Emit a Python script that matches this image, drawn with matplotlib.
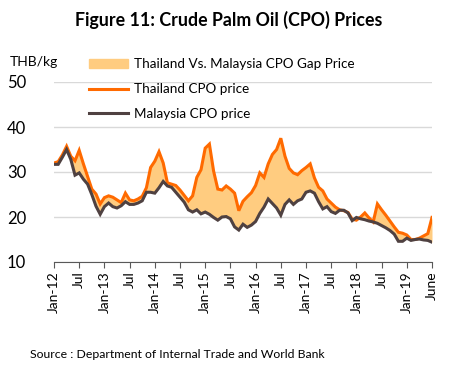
import matplotlib
matplotlib.use('Agg')
import matplotlib.pyplot as plt
import numpy as np
from matplotlib.patches import Patch
from matplotlib.lines import Line2D

# monthly prices, Jan-12 .. Jun-19 (THB/kg)
thai = [32.0, 32.3, 33.8, 35.7, 33.5, 32.5, 34.8, 31.8, 29.0, 26.2,
        25.1, 22.9, 24.3, 24.7, 24.4, 23.8, 23.2, 25.3, 23.8, 23.6,
        24.0, 24.6, 26.5, 31.0, 32.4, 34.5, 32.0, 27.6, 27.3, 27.0,
        26.0, 24.8, 23.6, 24.7, 28.8, 30.5, 35.3, 36.2, 30.2, 26.2,
        26.0, 26.9, 26.2, 25.3, 21.4, 23.5, 24.5, 25.4, 27.0, 29.8,
        28.8, 31.8, 33.9, 35.0, 37.5, 33.5, 30.8, 29.8, 29.4, 30.3,
        31.0, 31.8, 28.7, 26.6, 25.8, 24.0, 23.1, 22.2, 21.6, 21.4,
        21.0, 19.5, 19.3, 20.0, 20.9, 19.8, 18.9, 22.9, 21.6, 20.4,
        19.1, 17.8, 16.6, 16.4, 16.0, 15.0, 15.0, 15.3, 15.8, 16.3,
        19.9]
malaysia = [31.7, 31.7, 33.3, 35.0, 32.8, 29.3, 29.8, 28.4, 27.3, 25.0,
            22.4, 20.6, 22.3, 23.1, 22.3, 22.0, 22.5, 23.4, 22.8, 22.8,
            23.1, 23.6, 25.5, 25.5, 25.3, 26.5, 27.9, 26.9, 26.6, 25.5,
            24.4, 23.3, 21.6, 21.1, 21.6, 20.7, 21.1, 20.6, 19.9, 19.3,
            20.0, 20.1, 19.6, 17.8, 17.1, 18.4, 17.7, 18.2, 19.0, 20.8,
            22.2, 24.0, 23.0, 22.0, 20.4, 22.8, 23.8, 22.8, 23.6, 24.0,
            25.5, 25.8, 25.3, 23.4, 21.8, 22.3, 21.2, 20.8, 21.5, 21.5,
            20.9, 19.2, 19.9, 19.6, 19.4, 19.1, 18.9, 18.6, 18.1, 17.6,
            17.0, 16.2, 14.6, 14.6, 15.3, 14.8, 15.0, 15.1, 14.9, 14.8,
            14.4]
tick_labels = ['Jan-12', 'Jul', 'Jan-13', 'Jul', 'Jan-14', 'Jul', 'Jan-15', 'Jul',
               'Jan-16', 'Jul', 'Jan-17', 'Jul', 'Jan-18', 'Jul', 'Jan-19', 'June']

plt.rcParams['font.family'] = ['Lato', 'DejaVu Sans']

c_thai = '#ff6a00'
c_my = '#4f4141'
c_gap = '#ffcc80'

fig = plt.figure(figsize=(4.56, 3.70), dpi=100)
ax = fig.add_axes([54/456, 1 - 262/370, (432 - 54)/456, (262 - 82)/370])

x = np.arange(len(thai))
ax.fill_between(x, malaysia, thai, color=c_gap, lw=0)
ax.plot(x, thai, color=c_thai, lw=2.2, solid_joinstyle='miter')
ax.plot(x, malaysia, color=c_my, lw=2.2, solid_joinstyle='miter')

ax.set_xlim(0, len(thai) - 1)
ax.set_ylim(10, 50)
ax.set_yticks([10, 20, 30, 40, 50])
ax.yaxis.grid(True, color='#d9d9d9', lw=1)
ax.set_axisbelow(True)
ax.tick_params(axis='y', length=0, pad=20, labelsize=12)
ax.set_xticks(np.arange(0, len(thai), 6))
ax.set_xticklabels(tick_labels, rotation=90, fontsize=10)
ax.tick_params(axis='x', length=4, color='#595959', pad=3)
for s in ['left', 'right', 'top']:
    ax.spines[s].set_visible(False)
ax.spines['bottom'].set_color('#595959')

fig.text(0.502, 1 - 20/370, 'Figure 11: Crude Palm Oil (CPO) Prices',
         ha='center', va='center', fontsize=12.8, fontweight='bold')
fig.text(10/456, 1 - 62/370, 'THB/kg', ha='left', va='center', fontsize=10)
fig.text(30/456, 1 - 354/370, 'Source : Department of Internal Trade and World Bank',
         ha='left', va='center', fontsize=8.8)

handles = [Patch(color=c_gap),
           Line2D([], [], color=c_thai, lw=2.2),
           Line2D([], [], color=c_my, lw=2.2)]
labels = ['Thailand Vs. Malaysia CPO Gap Price', 'Thailand CPO price', 'Malaysia CPO price']
leg = fig.legend(handles, labels, loc='upper left', bbox_to_anchor=(84/456, 1 - 53/370),
                 frameon=False, fontsize=9.7, handlelength=2.9, handleheight=0.6,
                 labelspacing=0.95, handletextpad=0.4, borderaxespad=0)

fig.savefig('out.png', dpi=100)
